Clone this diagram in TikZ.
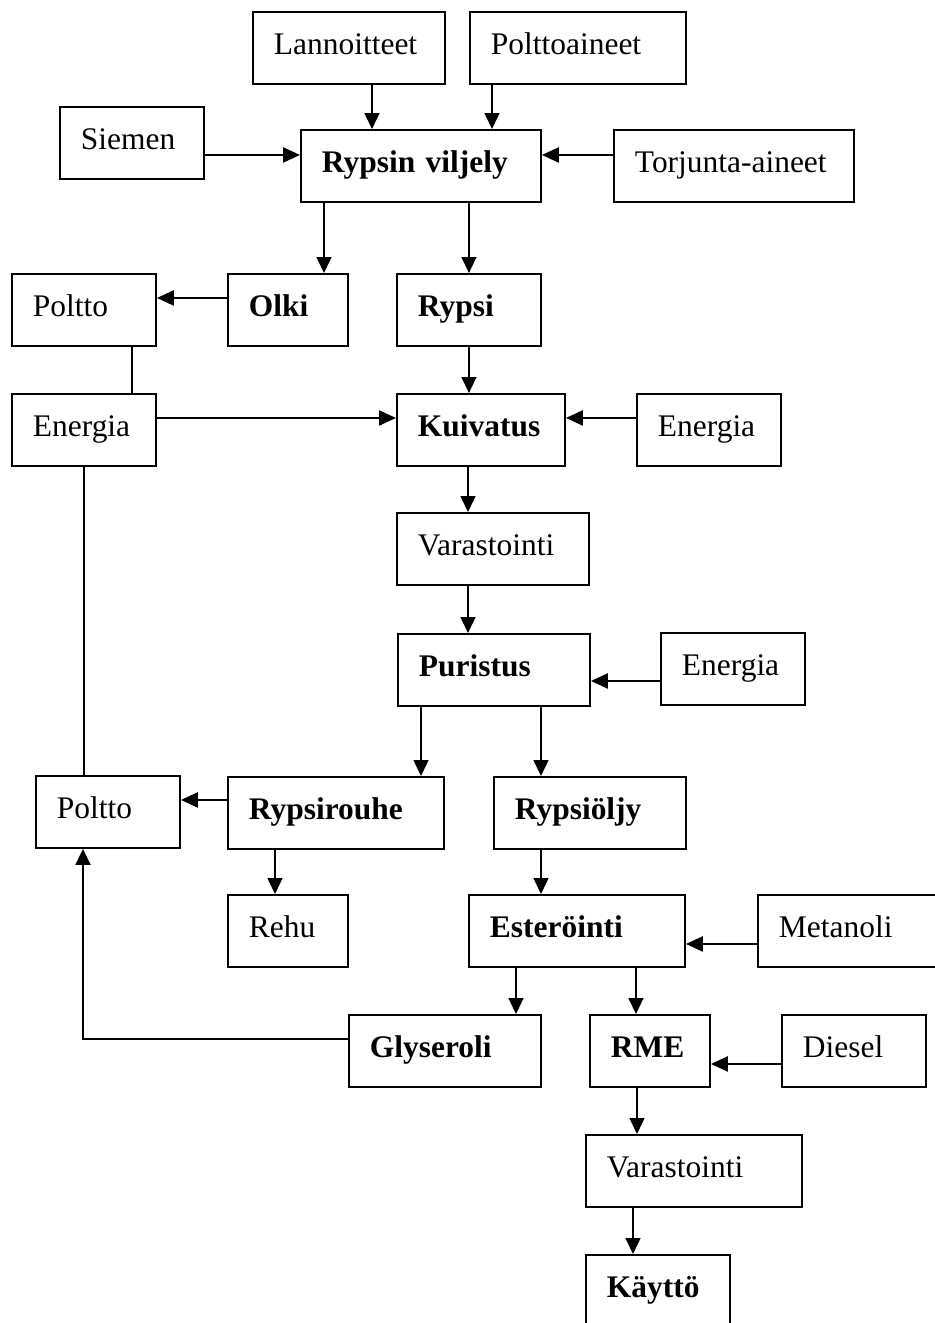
\documentclass[tikz,border=0pt]{standalone}
\usepackage{fontspec}
\setmainfont{Liberation Serif}
\usetikzlibrary{arrows.meta}
\hyphenpenalty=10000
\exhyphenpenalty=10000

\begin{document}
\begin{tikzpicture}[x=0.02cm, y=-0.02cm]

\tikzset{
  Box/.style = { draw, line width=1.1pt, anchor=north west, align=left,
                 inner xsep=0.42cm, inner ysep=0pt, minimum height=1.44cm,
                 text height=12.5pt, text depth=5.4pt, text width=#1,
                 font=\fontsize{17.9}{21}\selectfont },
  BoldBox/.style = { Box=#1, font=\fontsize{17.9}{21}\selectfont\bfseries },
  DownEdge/.style = { -{Triangle[length=0.32cm,width=0.3cm]}, line width=0.8pt },
  SideEdge/.style = { -{Triangle[length=0.34cm,width=0.3cm]}, line width=1.3pt } }

  \useasboundingbox (0,0) rectangle (935,1323);

  \node[Box=3.0cm]      (lannoitteet)  at (252, 11)   {Lannoitteet};
  \node[Box=3.48cm]     (polttoaineet) at (469, 11)   {Polttoaineet};
  \node[Box=2.04cm]     (siemen)       at (59, 106)   {Siemen};
  \node[BoldBox=3.96cm] (viljely)      at (300, 129)  {Rypsin viljely};
  \node[Box=3.96cm]     (torjunta)     at (613, 129)  {Torjunta-aineet};

  \node[Box=2.04cm]     (poltto1)      at (11, 273)   {Poltto};
  \node[BoldBox=1.56cm] (olki)         at (227, 273)  {Olki};
  \node[BoldBox=2.04cm] (rypsi)        at (396, 273)  {Rypsi};
  \node[Box=2.04cm]     (energia1)     at (11, 393)   {Energia};
  \node[BoldBox=2.52cm] (kuivatus)     at (396, 393)  {Kuivatus};
  \node[Box=2.04cm]     (energia2)     at (636, 393)  {Energia};
  \node[Box=3.0cm]      (varastointi1) at (396, 512)  {Varastointi};
  \node[BoldBox=3.0cm]  (puristus)     at (397, 633)  {Puristus};
  \node[Box=2.04cm]     (energia3)     at (660, 632)  {Energia};

  \node[Box=2.04cm]     (poltto2)      at (35, 775)   {Poltto};
  \node[BoldBox=3.48cm] (rypsirouhe)   at (227, 776)  {Rypsirouhe};
  \node[BoldBox=3.0cm]  (rypsioljy)    at (493, 776)  {Rypsiöljy};
  \node[Box=1.56cm]     (rehu)         at (227, 894)  {Rehu};
  \node[BoldBox=3.48cm] (esterointi)   at (468, 894)  {Esteröinti};
  \node[Box=3.6cm]      (metanoli)     at (757, 894)  {Metanoli};
  \node[BoldBox=3.0cm]  (glyseroli)    at (348, 1014) {Glyseroli};
  \node[BoldBox=1.56cm] (rme)          at (589, 1014) {RME};
  \node[Box=2.04cm]     (diesel)       at (781, 1014) {Diesel};
  \node[Box=3.48cm]     (varastointi2) at (585, 1134) {Varastointi};
  \node[BoldBox=2.04cm] (kaytto)       at (585, 1254) {Käyttö};

  % viljely
  \draw[DownEdge] ([xshift=2.4cm]lannoitteet.south west) -- ([xshift=2.4cm]lannoitteet.south west |- viljely.north);
  \draw[DownEdge] ([xshift=0.46cm]polttoaineet.south west) -- ([xshift=0.46cm]polttoaineet.south west |- viljely.north);
  \draw[SideEdge] ([yshift=-0.24cm]siemen.east) -- ([yshift=-0.24cm]siemen.east -| viljely.west);
  \draw[SideEdge] ([yshift=0.22cm]torjunta.west) -- ([yshift=0.22cm]torjunta.west -| viljely.east);
  \draw[DownEdge] ([xshift=0.48cm]viljely.south west) -- ([xshift=0.48cm]viljely.south west |- olki.north);
  \draw[DownEdge] (viljely.south -| rypsi.north) -- (rypsi.north);

  % kuivatus
  \draw[SideEdge] ([yshift=0.24cm]olki.west) -- ([yshift=0.24cm]olki.west -| poltto1.east);
  \draw[line width=0.8pt] ([xshift=-0.5cm]poltto1.south east) -- ([xshift=-0.5cm]poltto1.south east |- energia1.north);
  \draw[SideEdge] ([yshift=0.24cm]energia1.east) -- ([yshift=0.24cm]energia1.east -| kuivatus.west);
  \draw[SideEdge] ([yshift=0.24cm]energia2.west) -- ([yshift=0.24cm]energia2.west -| kuivatus.east);
  \draw[DownEdge] (rypsi.south) -- (rypsi.south |- kuivatus.north);
  \draw[DownEdge] ([xshift=1.44cm]kuivatus.south west) -- ([xshift=1.44cm]kuivatus.south west |- varastointi1.north);
  \draw[DownEdge] ([xshift=1.44cm]varastointi1.south west) -- ([xshift=1.44cm]varastointi1.south west |- puristus.north);

  % puristus
  \draw[SideEdge] ([yshift=-0.24cm]energia3.west) -- ([yshift=-0.24cm]energia3.west -| puristus.east);
  \draw[DownEdge] ([xshift=0.48cm]puristus.south west) -- ([xshift=0.48cm]puristus.south west |- rypsirouhe.north);
  \draw[DownEdge] ([xshift=2.88cm]puristus.south west) -- ([xshift=2.88cm]puristus.south west |- rypsioljy.north);
  \draw[SideEdge] ([yshift=0.26cm]rypsirouhe.west) -- ([yshift=0.26cm]rypsirouhe.west -| poltto2.east);
  \draw[line width=0.8pt] (energia1.south) -- (energia1.south |- poltto2.north);
  \draw[DownEdge] ([xshift=0.96cm]rypsirouhe.south west) -- ([xshift=0.96cm]rypsirouhe.south west |- rehu.north);
  \draw[DownEdge] ([xshift=0.96cm]rypsioljy.south west) -- ([xshift=0.96cm]rypsioljy.south west |- esterointi.north);

  % esterointi
  \draw[SideEdge] ([yshift=-0.26cm]metanoli.west) -- ([yshift=-0.26cm]metanoli.west -| esterointi.east);
  \draw[DownEdge] ([xshift=0.96cm]esterointi.south west) -- ([xshift=0.96cm]esterointi.south west |- glyseroli.north);
  \draw[DownEdge] ([xshift=3.36cm]esterointi.south west) -- ([xshift=3.36cm]esterointi.south west |- rme.north);
  \draw[DownEdge, line width=1pt] ([yshift=0.24cm]glyseroli.west) -| ([xshift=0.96cm]poltto2.south west);
  \draw[SideEdge] ([yshift=-0.26cm]diesel.west) -- ([yshift=-0.26cm]diesel.west -| rme.east);
  \draw[DownEdge] ([xshift=0.96cm]rme.south west) -- ([xshift=0.96cm]rme.south west |- varastointi2.north);
  \draw[DownEdge] ([xshift=0.96cm]varastointi2.south west) -- ([xshift=0.96cm]varastointi2.south west |- kaytto.north);

\end{tikzpicture}
\end{document}
